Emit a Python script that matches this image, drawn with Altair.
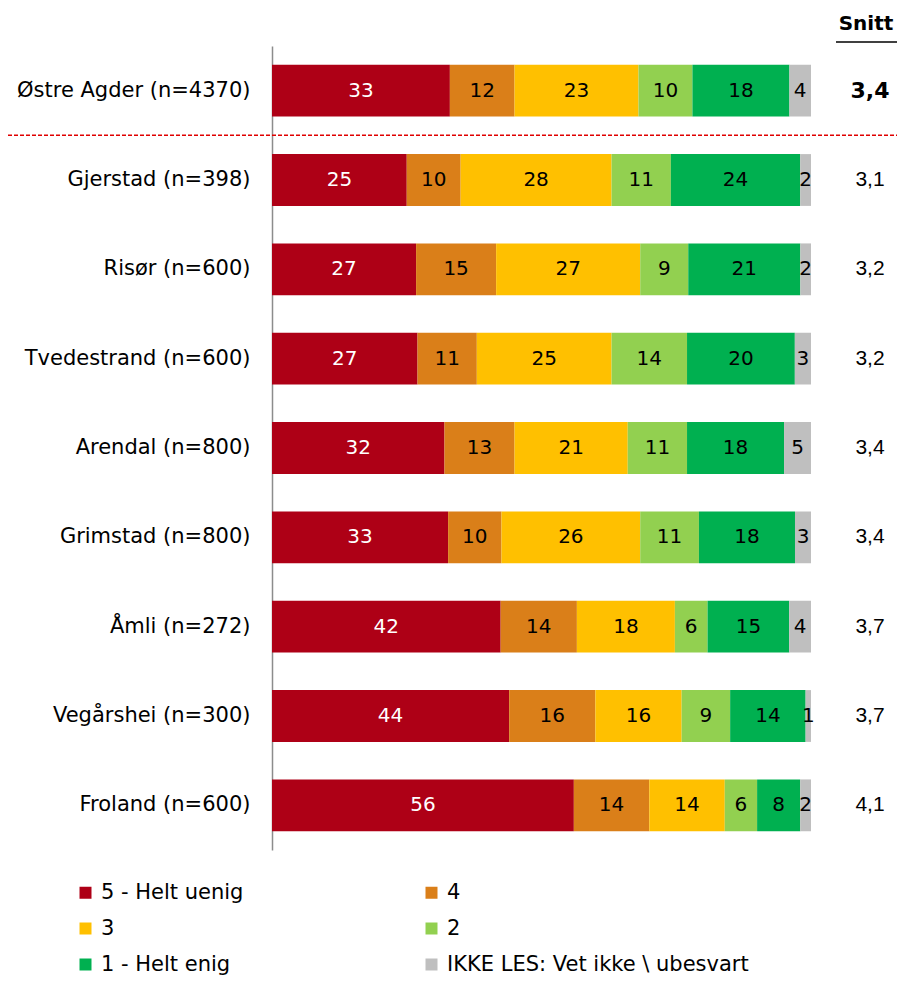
import altair as alt
import pandas as pd

rows = ["Østre Agder (n=4370)", "Gjerstad (n=398)", "Risør (n=600)", "Tvedestrand (n=600)",
        "Arendal (n=800)", "Grimstad (n=800)", "Åmli (n=272)", "Vegårshei (n=300)", "Froland (n=600)"]
cats = ["5 - Helt uenig", "4", "3", "2", "1 - Helt enig", "IKKE LES: Vet ikke \\ ubesvart"]
colors = ["#AE0016", "#DA7F19", "#FFC000", "#92D050", "#00B050", "#BFBFBF"]

v5 = [33, 25, 27, 27, 32, 33, 42, 44, 56]
v4 = [12, 10, 15, 11, 13, 10, 14, 16, 14]
v3 = [23, 28, 27, 25, 21, 26, 18, 16, 14]
v2 = [10, 11, 9, 14, 11, 11, 6, 9, 6]
v1 = [18, 24, 21, 20, 18, 18, 15, 14, 8]
vx = [4, 2, 2, 3, 5, 3, 4, 1, 2]
snitt = ["3,4", "3,1", "3,2", "3,2", "3,4", "3,4", "3,7", "3,7", "4,1"]

series = [v5, v4, v3, v2, v1, vx]
recs = []
for ci, (c, vals) in enumerate(zip(cats, series)):
    for r, v in zip(rows, vals):
        recs.append({"row": r, "cat": c, "order": ci, "value": v})
df = pd.DataFrame(recs)
sdf = pd.DataFrame({"row": rows, "snitt": snitt, "idx": list(range(len(rows)))})

FONT = "DejaVu Sans"
FONT2 = "Liberation Sans"

base = alt.Chart(df).transform_stack(
    stack="value", groupby=["row"], as_=["s0", "s1"], sort=[alt.SortField("order")]
).transform_joinaggregate(
    total="sum(value)", groupby=["row"]
).transform_calculate(
    x0="datum.s0/datum.total", x1="datum.s1/datum.total", xm="(datum.s0+datum.s1)/2/datum.total"
)

yenc = alt.Y("row:N", sort=rows,
             scale=alt.Scale(paddingInner=0.42, paddingOuter=0.21),
             axis=alt.Axis(title=None, ticks=False, domainColor="#8c8c8c", domainWidth=1.5,
                           labelFontSize=21, labelColor="black", labelPadding=22, labelFont=FONT,
                           labelLimit=400))

bars = base.mark_bar().encode(
    x=alt.X("x0:Q", scale=alt.Scale(domain=[0, 1]), axis=None),
    x2="x1:Q",
    y=yenc,
    color=alt.Color("cat:N", sort=cats, scale=alt.Scale(domain=cats, range=colors),
                    legend=alt.Legend(title=None, orient="none", legendX=-197, legendY=836,
                                      columns=2, columnPadding=177, rowPadding=14,
                                      direction="horizontal",
                                      symbolType="square", symbolSize=144, symbolStrokeWidth=0,
                                      labelFontSize=21, labelFont=FONT, labelColor="black",
                                      labelOffset=5, labelLimit=500)),
)

labels = base.mark_text(fontSize=20, font=FONT).encode(
    x="xm:Q",
    y=alt.Y("row:N", sort=rows),
    text="value:Q",
    color=alt.condition("datum.order == 0", alt.value("white"), alt.value("black")),
)

snitt_bold = alt.Chart(sdf).transform_filter("datum.idx == 0").mark_text(
    fontSize=22, font=FONT, fontWeight="bold", color="black").encode(
    x=alt.value(598), y=alt.Y("row:N", sort=rows), text="snitt:N")

snitt_norm = alt.Chart(sdf).transform_filter("datum.idx > 0").mark_text(
    fontSize=21, font=FONT2, color="black").encode(
    x=alt.value(598), y=alt.Y("row:N", sort=rows), text="snitt:N")

header = alt.Chart(pd.DataFrame({"t": ["Snitt"]})).mark_text(
    fontSize=20, font=FONT, fontWeight="bold", color="black"
).encode(x=alt.value(594), y=alt.value(-22), text="t:N")

underline = alt.Chart(pd.DataFrame({"a": [0]})).mark_rule(color="#404040", strokeWidth=2).encode(
    x=alt.value(564), x2=alt.value(625), y=alt.value(-4))

dashed = alt.Chart(pd.DataFrame({"a": [0]})).mark_rule(
    color="#E00000", strokeWidth=1.5, strokeDash=[4, 2]).encode(
    x=alt.value(-264), x2=alt.value(625), y=alt.value(89.3))

chart = alt.layer(bars, labels, snitt_bold, snitt_norm, header, underline, dashed).properties(
    width=539, height=804,
    autosize=alt.AutoSizeParams(type="none"),
    padding={"left": 264, "top": 38, "right": 86, "bottom": 128},
).configure(font=FONT).configure_view(stroke=None)

chart.save("out.html", embed_options={"renderer": "svg", "actions": False})
